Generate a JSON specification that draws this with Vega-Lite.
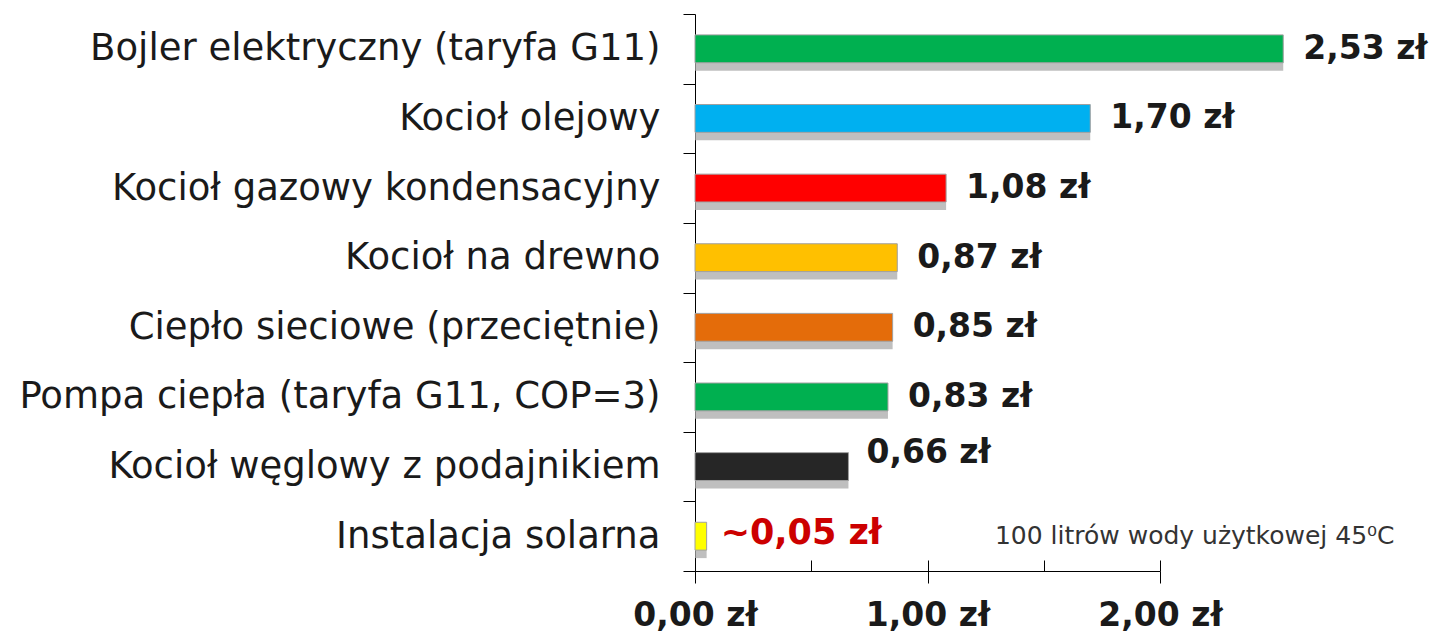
{
  "$schema": "https://vega.github.io/schema/vega-lite/v6.json",
  "width": 465,
  "height": 557,
  "autosize": {"type": "none"},
  "padding": {"left": 695, "top": 14, "right": 281, "bottom": 68},
  "background": "white",
  "config": {"view": {"stroke": null}},
  "datasets": {
    "costs": [
      {"kind": "Bojler elektryczny (taryfa G11)", "cost": 2.53, "label": "2,53 zł", "color": "#00b050"},
      {"kind": "Kocioł olejowy", "cost": 1.70, "label": "1,70 zł", "color": "#00b0f0"},
      {"kind": "Kocioł gazowy kondensacyjny", "cost": 1.08, "label": "1,08 zł", "color": "#ff0000"},
      {"kind": "Kocioł na drewno", "cost": 0.87, "label": "0,87 zł", "color": "#ffc000"},
      {"kind": "Ciepło sieciowe (przeciętnie)", "cost": 0.85, "label": "0,85 zł", "color": "#e46c0a"},
      {"kind": "Pompa ciepła (taryfa G11, COP=3)", "cost": 0.83, "label": "0,83 zł", "color": "#00b050"},
      {"kind": "Kocioł węglowy z podajnikiem", "cost": 0.66, "label": "0,66 zł", "color": "#262626"},
      {"kind": "Instalacja solarna", "cost": 0.05, "label": "~0,05 zł", "color": "#ffff00"}
    ],
    "note": [
      {"kind": "Instalacja solarna", "cost": 1.29, "text": "100 litrów wody użytkowej 45⁰C"}
    ],
    "minor": [
      {"v": 0}, {"v": 0.5}, {"v": 1}, {"v": 1.5}, {"v": 2}
    ]
  },
  "layer": [
    {
      "data": {"name": "costs"},
      "encoding": {
        "y": {
          "field": "kind",
          "type": "nominal",
          "sort": null,
          "scale": {"paddingInner": 0, "paddingOuter": 0},
          "axis": {
            "title": null,
            "tickBand": "extent",
            "tickSize": 12,
            "tickColor": "#000000",
            "domainColor": "#000000",
            "labelPadding": 23,
            "labelFont": "DejaVu Sans",
            "labelFontSize": 37,
            "labelColor": "#1a1a1a",
            "labelLimit": 700
          }
        }
      },
      "layer": [
        {
          "mark": {"type": "bar", "color": "#a9a9a9", "opacity": 0.75, "height": {"band": 0.4}, "yOffset": 8, "x2Offset": 6},
          "encoding": {
            "x": {
              "field": "cost",
              "type": "quantitative",
              "scale": {"domain": [0, 2], "nice": false, "zero": true},
              "axis": {
                "title": null,
                "values": [0, 1, 2],
                "tickSize": 12,
                "tickColor": "#000000",
                "domainColor": "#000000",
                "labelExpr": "replace(format(datum.value, '.2f'), '.', ',') + ' zł'",
                "labelFont": "DejaVu Sans",
                "labelFontWeight": "bold",
                "labelFontSize": 33,
                "labelColor": "#1a1a1a",
                "labelPadding": 16,
                "labelFlush": false,
                "grid": false
              }
            }
          }
        },
        {
          "mark": {"type": "bar", "height": {"band": 0.4}, "stroke": "#a0a0a0", "strokeWidth": 1},
          "encoding": {
            "x": {"field": "cost", "type": "quantitative"},
            "color": {"field": "color", "type": "nominal", "scale": null, "legend": null}
          }
        },
        {
          "transform": [{"filter": "datum.cost > 0.7"}],
          "mark": {"type": "text", "align": "left", "baseline": "middle", "dx": 20, "font": "DejaVu Sans", "fontWeight": "bold", "fontSize": 33, "color": "#1a1a1a"},
          "encoding": {
            "x": {"field": "cost", "type": "quantitative"},
            "text": {"field": "label"}
          }
        },
        {
          "transform": [{"filter": "datum.cost > 0.5 && datum.cost < 0.7"}],
          "mark": {"type": "text", "align": "left", "baseline": "middle", "dx": 18, "dy": -14, "font": "DejaVu Sans", "fontWeight": "bold", "fontSize": 33, "color": "#1a1a1a"},
          "encoding": {
            "x": {"field": "cost", "type": "quantitative"},
            "text": {"field": "label"}
          }
        },
        {
          "transform": [{"filter": "datum.cost < 0.5"}],
          "mark": {"type": "text", "align": "left", "baseline": "middle", "dx": 14, "dy": -3, "font": "DejaVu Sans", "fontWeight": "bold", "fontSize": 35, "color": "#cc0000"},
          "encoding": {
            "x": {"field": "cost", "type": "quantitative"},
            "text": {"field": "label"}
          }
        },
        {
          "data": {"name": "note"},
          "mark": {"type": "text", "align": "left", "baseline": "middle", "font": "DejaVu Sans", "fontSize": 25, "color": "#333333"},
          "encoding": {
            "x": {"field": "cost", "type": "quantitative"},
            "text": {"field": "text"}
          }
        }
      ]
    },
    {
      "data": {"name": "minor"},
      "mark": {"type": "rule", "opacity": 0},
      "encoding": {
        "x": {
          "field": "v",
          "type": "quantitative",
          "scale": {"domain": [0, 2], "nice": false, "zero": true},
          "axis": {
            "orient": "top",
            "offset": -557,
            "values": [0, 0.5, 1, 1.5, 2],
            "tickSize": 11,
            "tickColor": "#000000",
            "domain": false,
            "labels": false,
            "title": null,
            "grid": false
          }
        }
      }
    }
  ],
  "resolve": {"axis": {"x": "independent"}}
}
